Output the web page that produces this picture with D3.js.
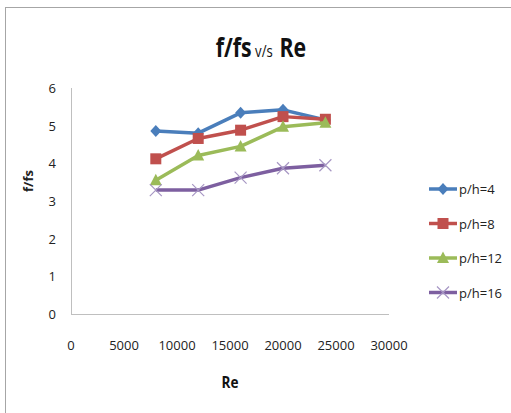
<!DOCTYPE html>
<html><head><meta charset="utf-8">
<script src="https://cdn.jsdelivr.net/npm/d3@7"></script>
<style>body{margin:0;background:#fff}svg{display:block}</style>
</head><body>
<script>
const reValues = [8000, 12000, 16000, 20000, 24000];
const seriesNames = ["p/h=4", "p/h=8", "p/h=12", "p/h=16"];
const ph4 = [4.86, 4.80, 5.34, 5.42, 5.15];
const ph8 = [4.12, 4.66, 4.88, 5.24, 5.17];
const ph12 = [3.55, 4.21, 4.45, 4.97, 5.08];
const ph16 = [3.29, 3.29, 3.62, 3.87, 3.95];
const xTicks = [0, 5000, 10000, 15000, 20000, 25000, 30000];
const yTicks = [0, 1, 2, 3, 4, 5, 6];
const colors = ["#4a7ebb", "#c0504d", "#9bbb59", "#7d5fa0"];
const markers = ["diamond", "square", "triangle", "cross"];
const seriesVals = [ph4, ph8, ph12, ph16];

const W = 511, H = 413;
const svg = d3.select("body").append("svg").attr("width", W).attr("height", H);
svg.append("rect").attr("x", 5.5).attr("y", 7.5).attr("width", 520).attr("height", 420)
  .attr("fill", "#fff").attr("stroke", "#a6a6a6").attr("stroke-width", 1);

const x = d3.scaleLinear().domain([0, 30000]).range([71, 389]);
const y = d3.scaleLinear().domain([0, 6]).range([314, 88]);
const font = "'Open Sans', sans-serif";

// axes lines
svg.append("line").attr("x1", x(0)).attr("x2", x(30000)).attr("y1", y(0)+0.5).attr("y2", y(0)+0.5)
  .attr("stroke", "#bfbfbf").attr("stroke-width", 1);
svg.append("line").attr("x1", x(0)+0.5).attr("x2", x(0)+0.5).attr("y1", y(0)).attr("y2", y(6))
  .attr("stroke", "#bfbfbf").attr("stroke-width", 1);

// tick labels
svg.selectAll(".xt").data(xTicks).enter().append("text")
  .attr("x", d => x(d)).attr("y", 350).attr("text-anchor", "middle")
  .attr("font-family", font).attr("font-size", 13).attr("fill", "#222").text(d => d);
svg.selectAll(".yt").data(yTicks).enter().append("text")
  .attr("x", 56).attr("y", d => y(d) + 5).attr("text-anchor", "end")
  .attr("font-family", font).attr("font-size", 13).attr("fill", "#222").text(d => d);

// title
const t = svg.append("text").attr("x", 261).attr("y", 57).attr("text-anchor", "middle")
  .attr("font-family", font).attr("font-weight", "bold").attr("fill", "#111")
  .attr("xml:space", "preserve");
t.append("tspan").attr("font-size", 26).text("f/fs");
t.append("tspan").attr("font-size", 16).attr("font-weight", "normal").text(" v/s  ");
t.append("tspan").attr("font-size", 26).text("Re");
t.attr("transform", "translate(261,0) scale(0.82,1) translate(-261,0)");

// axis titles
svg.append("text").attr("x", 230).attr("y", 388).attr("text-anchor", "middle")
  .attr("font-family", font).attr("font-weight", "bold").attr("font-size", 16).attr("fill", "#111")
  .attr("transform", "translate(230,0) scale(0.85,1) translate(-230,0)").text("Re");
svg.append("text").attr("transform", "translate(33,181) rotate(-90)").attr("text-anchor", "middle")
  .attr("font-family", font).attr("font-weight", "bold").attr("font-size", 13).attr("fill", "#222")
  .text("f/fs");

function drawMarker(g, type, cx, cy, color) {
  if (type === "diamond") {
    g.append("path").attr("d", `M${cx},${cy-6}L${cx+5.5},${cy}L${cx},${cy+6}L${cx-5.5},${cy}Z`).attr("fill", color);
  } else if (type === "square") {
    g.append("rect").attr("x", cx-5.5).attr("y", cy-5.5).attr("width", 11).attr("height", 11).attr("fill", color);
  } else if (type === "triangle") {
    g.append("path").attr("d", `M${cx},${cy-6.5}L${cx+6},${cy+5}L${cx-6},${cy+5}Z`).attr("fill", color);
  } else {
    g.append("path").attr("d", `M${cx-6},${cy-6}L${cx+6},${cy+6}M${cx-6},${cy+6}L${cx+6},${cy-6}`)
      .attr("stroke", "#a797c4").attr("stroke-width", 1.2).attr("fill", "none");
  }
}

const line = d3.line().x((d, i) => x(reValues[i])).y(d => y(d));
seriesVals.forEach((vals, si) => {
  const g = svg.append("g");
  g.append("path").datum(vals).attr("d", line).attr("fill", "none")
    .attr("stroke", colors[si]).attr("stroke-width", 3.5).attr("stroke-linejoin", "round");
  vals.forEach((v, i) => drawMarker(g, markers[si], x(reValues[i]), y(v), colors[si]));
});

// legend
seriesNames.forEach((name, si) => {
  const ly = 189 + si * 34.5;
  const g = svg.append("g");
  g.append("line").attr("x1", 429).attr("x2", 457).attr("y1", ly).attr("y2", ly)
    .attr("stroke", colors[si]).attr("stroke-width", 3.5);
  drawMarker(g, markers[si], 443, ly, colors[si]);
  g.append("text").attr("x", 459).attr("y", ly + 5).attr("font-family", font).attr("font-size", 13)
    .attr("fill", "#222").text(name);
});
</script>
</body></html>
